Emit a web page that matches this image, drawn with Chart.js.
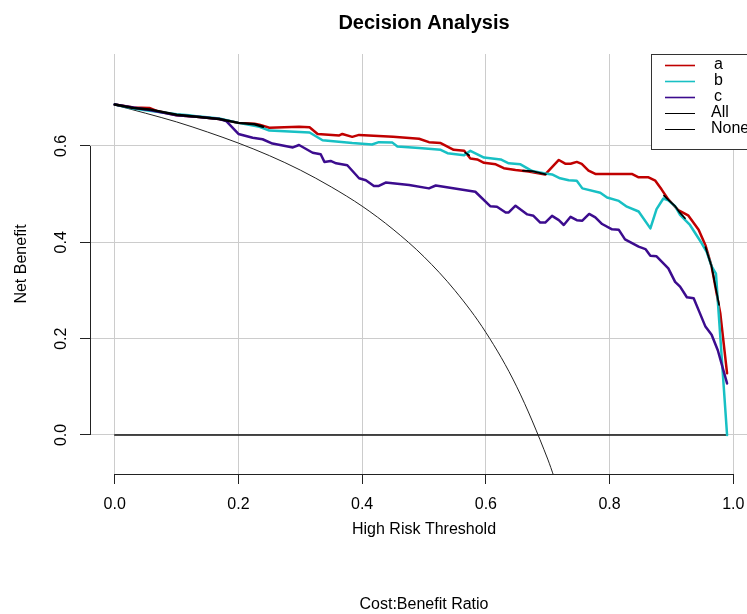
<!DOCTYPE html>
<html>
<head>
<meta charset="utf-8">
<script src="https://cdn.jsdelivr.net/npm/chart.js@4.4.1/dist/chart.umd.min.js"></script>
<style>
  html, body { margin: 0; padding: 0; background: #ffffff; overflow: hidden; }
</style>
</head>
<body>
<canvas id="decisionCurve" width="848" height="614"></canvas>
<script>
// thresholds (x) and net benefit (y)
const thresholdsA = [0, 0.03, 0.056, 0.07, 0.1, 0.137, 0.169, 0.2, 0.226, 0.234, 0.25, 0.298, 0.315, 0.328, 0.363, 0.368, 0.384, 0.395, 0.45, 0.492, 0.508, 0.527, 0.548, 0.565, 0.575, 0.586, 0.597, 0.616, 0.629, 0.648, 0.669, 0.696, 0.718, 0.729, 0.737, 0.747, 0.755, 0.766, 0.777, 0.836, 0.847, 0.863, 0.874, 0.884, 0.895, 0.911, 0.927, 0.944, 0.955, 0.965, 0.979, 0.99];
const netBenefitA = [0.686, 0.680, 0.679, 0.672, 0.664, 0.660, 0.656, 0.648, 0.646, 0.644, 0.638, 0.640, 0.639, 0.625, 0.622, 0.625, 0.619, 0.623, 0.619, 0.615, 0.608, 0.606, 0.592, 0.590, 0.574, 0.572, 0.565, 0.562, 0.554, 0.550, 0.547, 0.541, 0.571, 0.563, 0.563, 0.567, 0.563, 0.549, 0.542, 0.542, 0.535, 0.535, 0.528, 0.510, 0.489, 0.467, 0.456, 0.426, 0.394, 0.350, 0.253, 0.128];

const thresholdsB = [0, 0.03, 0.056, 0.1, 0.12, 0.137, 0.169, 0.2, 0.234, 0.25, 0.315, 0.336, 0.384, 0.416, 0.427, 0.449, 0.457, 0.492, 0.527, 0.538, 0.565, 0.575, 0.597, 0.624, 0.637, 0.656, 0.675, 0.696, 0.707, 0.72, 0.734, 0.747, 0.756, 0.785, 0.796, 0.815, 0.828, 0.847, 0.866, 0.876, 0.887, 0.895, 0.906, 0.914, 0.93, 0.949, 0.957, 0.965, 0.972, 0.99];
const netBenefitB = [0.686, 0.678, 0.673, 0.666, 0.664, 0.661, 0.657, 0.648, 0.640, 0.632, 0.628, 0.612, 0.606, 0.603, 0.608, 0.607, 0.599, 0.596, 0.592, 0.585, 0.581, 0.590, 0.576, 0.572, 0.564, 0.562, 0.548, 0.543, 0.541, 0.533, 0.529, 0.528, 0.512, 0.503, 0.493, 0.486, 0.474, 0.464, 0.429, 0.469, 0.491, 0.487, 0.475, 0.457, 0.436, 0.398, 0.380, 0.350, 0.335, 0.000];

const thresholdsC = [0, 0.05, 0.1, 0.137, 0.169, 0.18, 0.2, 0.223, 0.239, 0.255, 0.288, 0.298, 0.32, 0.333, 0.339, 0.349, 0.358, 0.376, 0.395, 0.406, 0.419, 0.427, 0.438, 0.476, 0.508, 0.519, 0.583, 0.607, 0.618, 0.632, 0.637, 0.648, 0.667, 0.677, 0.688, 0.696, 0.707, 0.718, 0.726, 0.737, 0.747, 0.756, 0.767, 0.777, 0.788, 0.804, 0.815, 0.825, 0.847, 0.858, 0.866, 0.876, 0.895, 0.906, 0.914, 0.925, 0.936, 0.946, 0.955, 0.965, 0.975, 0.99];
const netBenefitC = [0.686, 0.676, 0.664, 0.660, 0.656, 0.652, 0.625, 0.617, 0.614, 0.605, 0.597, 0.602, 0.586, 0.583, 0.567, 0.569, 0.564, 0.560, 0.533, 0.529, 0.517, 0.517, 0.524, 0.519, 0.512, 0.518, 0.505, 0.475, 0.474, 0.462, 0.462, 0.476, 0.458, 0.455, 0.441, 0.441, 0.455, 0.446, 0.436, 0.453, 0.446, 0.445, 0.459, 0.452, 0.438, 0.427, 0.426, 0.406, 0.391, 0.386, 0.372, 0.371, 0.346, 0.318, 0.308, 0.286, 0.284, 0.253, 0.225, 0.208, 0.176, 0.107];

// black curve that shows only where a and b overlap (null = gap)
const thresholdsMixStart = [0, 0.03, 0.056, 0.1, 0.137, 0.169, 0.2, 0.226, 0.24];
const netBenefitMixStart = [0.686, 0.679, 0.676, 0.665, 0.660, 0.656, 0.648, 0.645, 0.640];
const thresholdsMixLate = [0.567, 0.573, 0.58, 0.66, 0.675, 0.697, 0.70, 0.888, 0.895, 0.906, 0.914, 0.922, 0.93, 0.955, 0.965, 0.977, 0.98];
const netBenefitMixLate = [0.586, 0.581, null, 0.549, 0.548, 0.541, null, 0.497, 0.488, 0.475, 0.461, 0.450, null, 0.390, 0.350, 0.270, null];

const thresholdsAll = [0, 0.05, 0.1, 0.15, 0.2, 0.25, 0.3, 0.35, 0.4, 0.45, 0.5, 0.55, 0.6, 0.65, 0.7, 0.71];
const netBenefitAll = [0.685, 0.668, 0.650, 0.629, 0.606, 0.580, 0.550, 0.515, 0.475, 0.427, 0.370, 0.300, 0.213, 0.100, -0.050, -0.086];

const thresholdsNone = [0, 0.99];
const netBenefitNone = [0, 0];

const xTickValues = [0, 0.2, 0.4, 0.6, 0.8, 1.0];
const yTickValues = [0, 0.2, 0.4, 0.6];

const legendLabels = ["a", "b", "c", "All", "None"];
const legendColors = ["#c00000", "#18c0c4", "#3c0c8e", "#000000", "#000000"];

const fontFamily = "'Liberation Sans', Arial, Helvetica, sans-serif";
Chart.defaults.font.family = fontFamily;
Chart.defaults.color = "#000000";

function toPoints(xs, ys) {
  return xs.map((t, i) => ({ x: t, y: ys[i] }));
}

// R-style axis lines: only from the first to the last tick
const rAxes = {
  id: "rAxes",
  afterDraw(chart) {
    const { ctx, scales } = chart;
    const x = scales.x, y = scales.y;
    ctx.save();
    ctx.strokeStyle = "#222222";
    ctx.lineWidth = 1;
    ctx.beginPath();
    const yb = Math.round(y.bottom) + 0.5;
    ctx.moveTo(x.getPixelForValue(xTickValues[0]), yb);
    ctx.lineTo(x.getPixelForValue(xTickValues[xTickValues.length - 1]), yb);
    const xl = Math.round(x.left) + 0.5;
    ctx.moveTo(xl, y.getPixelForValue(yTickValues[0]));
    ctx.lineTo(xl, y.getPixelForValue(yTickValues[yTickValues.length - 1]));
    ctx.stroke();
    ctx.restore();
  }
};

// boxed legend in the top right corner of the plot region
const boxLegend = {
  id: "boxLegend",
  afterDraw(chart) {
    const { ctx, chartArea } = chart;
    const left = 651.5, top = Math.round(chartArea.top) + 0.5;
    const right = chartArea.right, bottom = top + 95;
    ctx.save();
    ctx.fillStyle = "#ffffff";
    ctx.fillRect(left, top, right - left, bottom - top);
    ctx.strokeStyle = "#333333";
    ctx.lineWidth = 1;
    ctx.strokeRect(left, top, right - left, bottom - top);
    ctx.font = "16px " + fontFamily;
    ctx.textBaseline = "middle";
    ctx.textAlign = "left";
    legendLabels.forEach((label, i) => {
      const rowY = top + 11 + i * 16;
      ctx.strokeStyle = legendColors[i];
      ctx.lineWidth = i < 3 ? 1.6 : 1;
      ctx.beginPath();
      ctx.moveTo(665, rowY);
      ctx.lineTo(695, rowY);
      ctx.stroke();
      ctx.fillStyle = "#000000";
      ctx.fillText(label, i < 3 ? 714 : 711, rowY - 1);
    });
    ctx.restore();
  }
};

let canvasElement = document.getElementById("decisionCurve");

let decisionChart = new Chart(canvasElement, {
  type: "line",
  data: {
    datasets: [
      {
        label: "a",
        data: toPoints(thresholdsA, netBenefitA),
        borderColor: legendColors[0],
        borderWidth: 2.5,
        order: 3,
      },
      {
        label: "b",
        data: toPoints(thresholdsB, netBenefitB),
        borderColor: legendColors[1],
        borderWidth: 2.5,
        order: 2,
      },
      {
        label: "c",
        data: toPoints(thresholdsC, netBenefitC),
        borderColor: legendColors[2],
        borderWidth: 2.5,
        order: 1,
      },
      {
        label: "All",
        data: toPoints(thresholdsAll, netBenefitAll),
        borderColor: "#222222",
        borderWidth: 1,
        cubicInterpolationMode: "monotone",
        order: 4,
      },
      {
        label: "None",
        data: toPoints(thresholdsNone, netBenefitNone),
        borderColor: "#111111",
        borderWidth: 1.5,
        order: 5,
      },
      {
        label: "overlap start",
        data: toPoints(thresholdsMixStart, netBenefitMixStart),
        borderColor: "#000000",
        borderWidth: 2.5,
        order: 0,
      },
      {
        label: "overlap late",
        data: toPoints(thresholdsMixLate, netBenefitMixLate),
        borderColor: "#000000",
        borderWidth: 1.8,
        spanGaps: false,
        order: 0,
      },
    ],
  },
  options: {
    responsive: false,
    animation: false,
    events: [],
    layout: { padding: 0 },
    elements: {
      point: { radius: 0 },
      line: { tension: 0, fill: false, borderCapStyle: "round", borderJoinStyle: "round" },
    },
    plugins: {
      legend: { display: false },
      tooltip: { enabled: false },
      title: {
        display: true,
        text: "Decision Analysis",
        color: "#000000",
        font: { size: 20, weight: "bold" },
        padding: { top: 11, bottom: 19 },
      },
      subtitle: {
        display: true,
        position: "bottom",
        text: "Cost:Benefit Ratio",
        color: "#000000",
        font: { size: 16 },
        padding: 0,
      },
    },
    scales: {
      x: {
        type: "linear",
        min: -0.04,
        max: 1.04,
        afterBuildTicks: (scale) => {
          scale.ticks = xTickValues.map((v) => ({ value: v }));
        },
        afterFit: (scale) => {
          scale.height = 120.8;
        },
        border: { display: false },
        grid: { color: "#cccccc", lineWidth: 1, tickLength: 10, tickColor: "#222222", tickWidth: 1 },
        ticks: {
          font: { size: 16 },
          color: "#000000",
          padding: 11,
          minRotation: 0,
          maxRotation: 0,
          callback: (v) => Number(v).toFixed(1),
        },
        title: {
          display: true,
          text: "High Risk Threshold",
          color: "#000000",
          font: { size: 16 },
          padding: { top: 0, bottom: 56 },
        },
      },
      y: {
        type: "linear",
        min: -0.081,
        max: 0.791,
        afterBuildTicks: (scale) => {
          scale.ticks = yTickValues.map((v) => ({ value: v }));
        },
        afterFit: (scale) => {
          scale.width = 90;
        },
        border: { display: false },
        grid: { color: "#cccccc", lineWidth: 1, tickLength: 10, tickColor: "#222222", tickWidth: 1 },
        ticks: {
          font: { size: 16 },
          color: "#000000",
          padding: 7,
          crossAlign: "center",
          minRotation: 90,
          maxRotation: 90,
          callback: (v) => Number(v).toFixed(1),
        },
        title: {
          display: true,
          text: "Net Benefit",
          color: "#000000",
          font: { size: 16 },
          padding: { top: 12, bottom: 0 },
        },
      },
      yRight: {
        type: "linear",
        position: "right",
        afterFit: (scale) => {
          scale.width = 90;
        },
        border: { display: false },
        grid: { display: false },
        ticks: { display: false },
      },
    },
  },
  plugins: [rAxes, boxLegend],
});
</script>
</body>
</html>
